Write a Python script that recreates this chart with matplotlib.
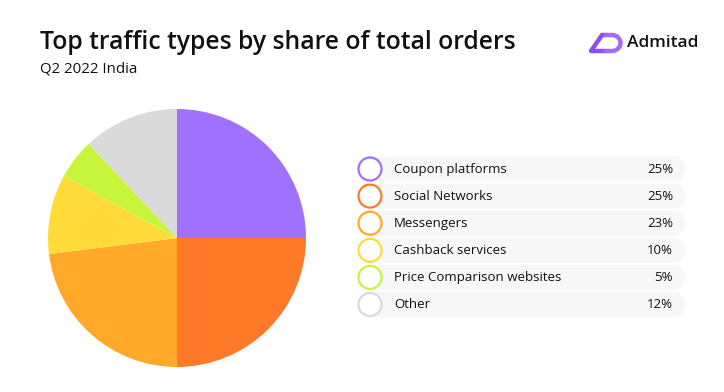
import numpy as np
import matplotlib.pyplot as plt
from matplotlib.patches import FancyBboxPatch, Circle

labels = ["Coupon platforms", "Social Networks", "Messengers",
          "Cashback services", "Price Comparison websites", "Other"]
shares = [25, 25, 23, 10, 5, 12]
colors = ["#A070FF", "#FF7A28", "#FFA92A", "#FFDB3A", "#C6F53C", "#DADADA"]

W, H = 724, 392
fig = plt.figure(figsize=(W / 100, H / 100), dpi=100)
fig.patch.set_facecolor("white")

# canvas in pixel coords (y measured from top via H - y)
bg = fig.add_axes([0, 0, 1, 1])
bg.set_xlim(0, W)
bg.set_ylim(0, H)
bg.axis("off")

font = "Open Sans"
bg.text(40, H - 42, "Top traffic types by share of total orders", fontsize=17.8,
        fontweight="semibold", family=font, va="center", ha="left", color="#111111")
bg.text(40, H - 69, "Q2 2022 India", fontsize=10.8, family=font, va="center",
        ha="left", color="#111111")

# logo
lw = 3.2
bg.plot([606, 591, 602, 606], [H - 51, H - 51, H - 35, H - 35], color="#8B4EF2",
        lw=lw, solid_joinstyle="round", solid_capstyle="round")
t = np.linspace(np.pi / 2, -np.pi / 2, 30)
dx = 612 + 8.5 * np.cos(t)
dy = (H - 43) + 8 * np.sin(t)
bg.plot(np.r_[606, dx, 606], np.r_[H - 35, dy, H - 51], color="#A36CFF",
        lw=lw, solid_joinstyle="round", solid_capstyle="round")
bg.text(627, H - 43, "Admitad", fontsize=12.5, fontweight="semibold", family=font,
        va="center", ha="left", color="#111111")

# pie
pax = fig.add_axes([48 / W, (H - 367) / H, 258 / W, 258 / H])
pax.pie(shares, colors=colors, startangle=90, counterclock=False,
        wedgeprops=dict(linewidth=0))
pax.set_xlim(-1, 1)
pax.set_ylim(-1, 1)
pax.set_aspect("equal")
pax.axis("off")

# legend rows
y0, step = 169, 27.1
for i, (lab, val, c) in enumerate(zip(labels, shares, colors)):
    y = H - (y0 + i * step)
    bg.add_patch(FancyBboxPatch((368, y - 12.5), 317, 25,
                                boxstyle="round,pad=0,rounding_size=12.5",
                                fc="#F7F7F7", ec="none"))
    bg.add_patch(Circle((370, y), 11.5, fc="white", ec=c, lw=1.6))
    bg.text(394, y, lab, fontsize=9.5, family=font, va="center", ha="left",
            color="#111111")
    bg.text(673, y, f"{val}%", fontsize=9.5, family=font, va="center",
            ha="right", color="#111111")

fig.savefig("out.png", dpi=100, facecolor="white")
